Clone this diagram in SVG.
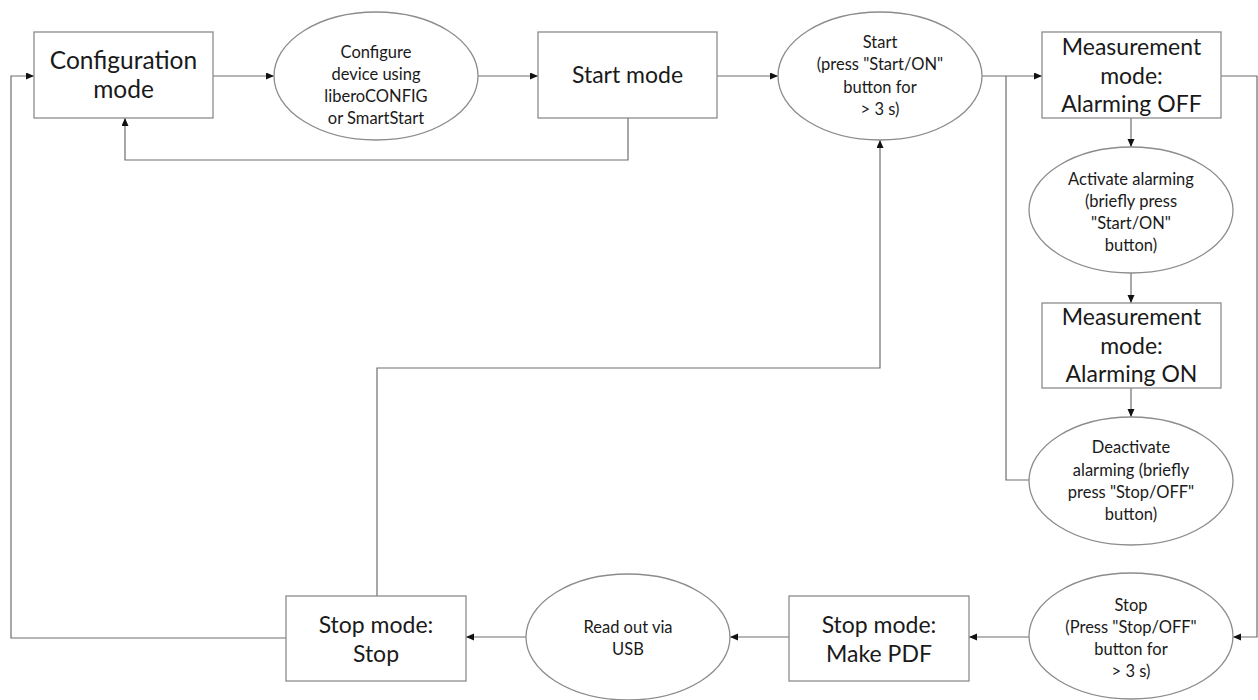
<svg xmlns="http://www.w3.org/2000/svg" width="1258" height="700" viewBox="0 0 1258 700">
<style>
.box{fill:#fff;stroke:#8c8c8c;stroke-width:1.3}
.ell{fill:#fff;stroke:#8c8c8c;stroke-width:1.3}
.ln{fill:none;stroke:#6e6e6e;stroke-width:1.2}
.arr{marker-end:url(#ah)}
text{font-family:Lato,"Liberation Sans",sans-serif;fill:#1a1a1a;text-anchor:middle}
.big{font-size:23px}
.cfg{font-size:24.5px}
.lg{font-size:23px}
.sm{font-size:16.5px}
</style>
<defs>
<marker id="ah" markerWidth="8" markerHeight="8" refX="8" refY="3.5" orient="auto" markerUnits="userSpaceOnUse">
<path d="M0,0 L8,3.5 L0,7 Z" fill="#111"/>
</marker>
</defs>
<rect width="1258" height="700" fill="#fff"/>
<g id="connectors">
<path class="ln arr" d="M286,638 H11 V76 H34"/>
<path class="ln arr" d="M213,76 H274"/>
<path class="ln arr" d="M478,76 H538"/>
<path class="ln arr" d="M628,118 V160 H125 V118"/>
<path class="ln arr" d="M717,76 H778"/>
<path class="ln arr" d="M982,76 H1042"/>
<path class="ln" d="M1029,480 H1006 V76"/>
<path class="ln arr" d="M1131,118 V147"/>
<path class="ln arr" d="M1131,273 V303"/>
<path class="ln arr" d="M1131,388 V417"/>
<path class="ln arr" d="M1221,76 H1257 V637 H1233"/>
<path class="ln arr" d="M1029,637 H969"/>
<path class="ln arr" d="M789,637 H730"/>
<path class="ln arr" d="M526,637 H466"/>
<path class="ln arr" d="M377,596 V368 H880 V140"/>
</g>
<g id="config-mode">
<rect class="box" x="34" y="32" width="179" height="86"/>
<text class="cfg" x="123.5" y="69">Configuration</text>
<text class="cfg" x="123.5" y="98">mode</text>
</g>
<g id="configure-device">
<ellipse class="ell" cx="376" cy="76" rx="102" ry="64"/>
<text class="sm" x="376" y="58">Configure</text>
<text class="sm" x="376" y="80">device using</text>
<text class="sm" x="376" y="102">liberoCONFIG</text>
<text class="sm" x="376" y="124">or SmartStart</text>
</g>
<g id="start-mode">
<rect class="box" x="538" y="32" width="179" height="86"/>
<text class="big" x="627.5" y="83">Start mode</text>
</g>
<g id="start-press">
<ellipse class="ell" cx="880" cy="76" rx="102" ry="64"/>
<text class="sm" x="880" y="48">Start</text>
<text class="sm" x="880" y="70">(press "Start/ON"</text>
<text class="sm" x="880" y="93">button for</text>
<text class="sm" x="880" y="115">&gt; 3 s)</text>
</g>
<g id="measurement-off">
<rect class="box" x="1042" y="32" width="179" height="86"/>
<text class="lg" x="1131.5" y="55">Measurement</text>
<text class="lg" x="1131.5" y="83.5">mode:</text>
<text class="lg" x="1131.5" y="112">Alarming OFF</text>
</g>
<g id="activate-alarming">
<ellipse class="ell" cx="1131" cy="210" rx="102" ry="63"/>
<text class="sm" x="1131" y="185">Activate alarming</text>
<text class="sm" x="1131" y="207">(briefly press</text>
<text class="sm" x="1131" y="229">"Start/ON"</text>
<text class="sm" x="1131" y="251">button)</text>
</g>
<g id="measurement-on">
<rect class="box" x="1042" y="303" width="179" height="85"/>
<text class="lg" x="1131.5" y="325">Measurement</text>
<text class="lg" x="1131.5" y="353.5">mode:</text>
<text class="lg" x="1131.5" y="382">Alarming ON</text>
</g>
<g id="deactivate-alarming">
<ellipse class="ell" cx="1131" cy="481" rx="102" ry="64"/>
<text class="sm" x="1131" y="453">Deactivate</text>
<text class="sm" x="1131" y="476">alarming (briefly</text>
<text class="sm" x="1131" y="498">press "Stop/OFF"</text>
<text class="sm" x="1131" y="520">button)</text>
</g>
<g id="stop-press">
<ellipse class="ell" cx="1131" cy="636" rx="102" ry="63"/>
<text class="sm" x="1131" y="611">Stop</text>
<text class="sm" x="1131" y="633">(Press "Stop/OFF"</text>
<text class="sm" x="1131" y="655">button for</text>
<text class="sm" x="1131" y="677">&gt; 3 s)</text>
</g>
<g id="stop-make-pdf">
<rect class="box" x="789" y="596" width="180" height="85"/>
<text class="big" x="879" y="633">Stop mode:</text>
<text class="big" x="879" y="662">Make PDF</text>
</g>
<g id="read-out-usb">
<ellipse class="ell" cx="628" cy="637" rx="102" ry="63"/>
<text class="sm" x="628" y="633">Read out via</text>
<text class="sm" x="628" y="655">USB</text>
</g>
<g id="stop-mode-stop">
<rect class="box" x="286" y="596" width="180" height="85"/>
<text class="big" x="376" y="633">Stop mode:</text>
<text class="big" x="376" y="662">Stop</text>
</g>
</svg>
